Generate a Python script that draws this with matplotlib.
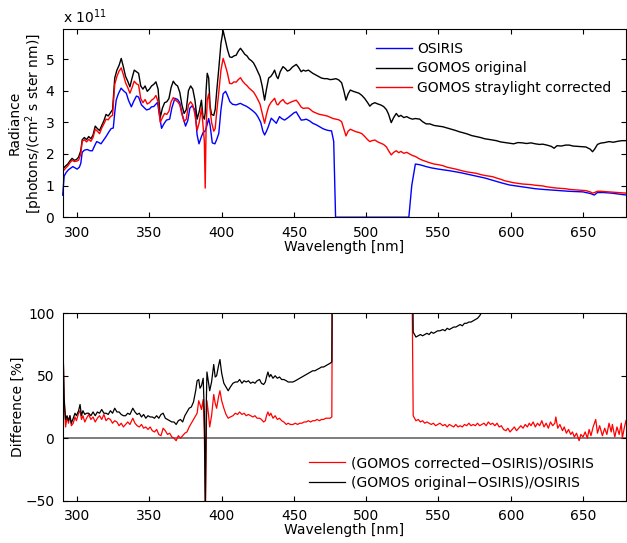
import matplotlib
matplotlib.use('Agg')
import matplotlib.pyplot as plt

plt.rcParams['font.family'] = 'DejaVu Sans'
plt.rcParams['font.size'] = 10
plt.rcParams['axes.linewidth'] = 0.8
plt.rcParams['xtick.direction'] = 'in'
plt.rcParams['ytick.direction'] = 'in'
plt.rcParams['xtick.top'] = True
plt.rcParams['ytick.right'] = True
plt.rcParams['xtick.major.size'] = 3.5
plt.rcParams['ytick.major.size'] = 3.5

# --- top panel: radiance (units of 1e11 photons/(cm2 s ster nm)) ---
wl_osiris = [290, 291, 292.5, 294, 295.5, 297, 298.5, 300, 301.5, 302.5, 303.5, 305, 307, 309,
             310.5, 312, 313.5, 315, 316.5, 318, 320, 322, 323.5, 325, 326, 327, 328.5, 330.4,
             332, 334, 335.5, 337.5, 339, 341, 342.5, 344.5, 346, 348, 350, 351.5, 353, 355.6,
             356.5, 358.4, 360, 361.8, 364, 365.5, 367.6, 369.5, 371, 373, 375, 376.5, 378,
             379.5, 381.5, 383, 384.3, 386, 387.2, 388.5, 389.5, 391, 392, 393.5, 395.3, 396.5,
             398, 399.5, 401, 402.7, 404, 405.7, 407.5, 410, 412.9, 415, 417, 419, 421.6, 423.5,
             425, 427, 428.5, 429.7, 431, 432, 434.3, 436, 437.8, 440, 441.5, 443.5, 446, 448.2,
             450, 451.6, 453, 455, 457, 458.5, 461, 463, 465.5, 467.7, 470, 472.3, 474, 476,
             477.5, 478.8, 529.5, 531.5, 534, 537, 541.5, 545, 550, 557.6, 565, 570, 576, 582,
             588, 594, 599, 605, 611, 617, 622, 628, 634, 640, 645, 650, 655, 657.8, 660, 664,
             670, 675, 680]
rad_osiris = [0.70, 1.30, 1.42, 1.50, 1.55, 1.60, 1.56, 1.52, 1.58, 1.70, 2.05, 2.12, 2.14, 2.10,
              2.10, 2.25, 2.39, 2.36, 2.32, 2.42, 2.55, 2.70, 2.80, 2.82, 3.30, 3.70, 3.90, 4.08,
              4.00, 3.92, 3.70, 3.49, 3.65, 3.83, 3.80, 3.55, 3.48, 3.39, 3.42, 3.49, 3.50, 3.63,
              3.35, 2.81, 2.95, 3.07, 3.10, 3.45, 3.76, 3.72, 3.62, 3.20, 2.88, 3.05, 3.45,
              3.52, 3.40, 2.60, 2.32, 2.55, 2.68, 2.72, 2.85, 3.12, 2.90, 2.35, 2.32, 2.45,
              2.65, 3.40, 3.90, 3.98, 3.85, 3.65, 3.57, 3.55, 3.60, 3.55, 3.51, 3.45, 3.36, 3.28,
              3.18, 3.00, 2.72, 2.60, 2.72, 2.83, 3.13, 3.05, 2.97, 3.18, 3.12, 3.07, 3.15, 3.23,
              3.30, 3.33, 3.22, 3.07, 3.08, 3.10, 3.04, 2.97, 2.92, 2.86, 2.80, 2.76, 2.74, 2.73,
              2.40, 0.0, 0.0, 1.00, 1.68, 1.66, 1.60, 1.56, 1.52, 1.47, 1.41, 1.36, 1.30, 1.24,
              1.16, 1.08, 1.02, 0.98, 0.94, 0.90, 0.88, 0.86, 0.84, 0.82, 0.81, 0.80, 0.75, 0.70,
              0.78, 0.78, 0.76, 0.73, 0.70]

wl_gomos = [289.5, 290.5, 292, 293.5, 295, 296.5, 298, 299.5, 301, 302.5, 303.5, 305, 306.5, 308,
            309.5, 311, 312.5, 314, 315.5, 317, 318.5, 320, 321.5, 323, 324.5, 326, 327.5, 329,
            330.5, 332, 333.5, 335, 336.5, 338, 339.5, 341, 342.5, 344, 345.5, 347, 348.5, 350,
            351.5, 353, 354.5, 356, 357.5, 359, 360.5, 362, 363.5, 365, 366.5, 368, 369.5, 371,
            372.5, 374, 375.5, 377, 378.5, 380, 381.5, 383, 384.5, 386, 387, 388, 388.6, 389.2,
            390, 391, 392, 393, 394.5, 395.5, 396.5, 398, 399.5, 401, 402.5, 404, 405.5, 407,
            408.5, 410, 411.5, 413, 414.5, 416, 417.5, 419, 420.5, 422, 423.5, 425, 426.5, 428,
            429.7, 431, 432.5, 434, 435.5, 436.6, 438, 439, 440.5, 442.4, 444, 445.5, 447, 449,
            451.6, 453, 455, 456.5, 458, 460, 461.5, 463, 465, 467, 469, 471, 473, 475, 477,
            479, 481, 483, 484.5, 486, 487.5, 489, 491, 493, 495, 497, 499, 501, 502.5, 504,
            506, 508, 510, 512, 514, 515.5, 517.3, 519, 520.8, 522.5, 524, 526, 528, 530, 532,
            534, 537, 539, 541.5, 544, 547, 550, 553, 556, 559, 562, 564.5, 567, 570, 573, 576,
            579, 582, 585, 587.5, 590, 593, 596, 599, 602, 605, 608, 611, 614, 617, 620, 622,
            625, 628, 630, 632, 635, 638, 640.5, 643, 646, 649, 652, 655, 656.6, 658, 660, 662,
            665, 668, 671, 674, 677, 680]
rad_gomos_orig = [1.50, 1.55, 1.62, 1.68, 1.78, 1.86, 1.80, 1.82, 1.90, 2.10, 2.45, 2.52, 2.45,
                  2.55, 2.48, 2.60, 2.88, 2.80, 2.74, 2.90, 3.05, 3.25, 3.20, 3.30, 3.40, 4.40,
                  4.65, 4.80, 5.02, 4.75, 4.45, 4.30, 4.12, 4.40, 4.65, 4.60, 4.55, 4.15, 4.05,
                  4.15, 3.98, 4.05, 4.15, 4.20, 4.28, 4.05, 3.15, 3.45, 3.62, 3.65, 3.75, 4.10,
                  4.30, 4.20, 4.15, 3.95, 3.55, 3.28, 3.40, 4.00, 4.15, 4.05, 3.70, 3.10, 3.35,
                  3.70, 3.20, 3.10, 3.30, 4.00, 4.55, 4.40, 3.50, 3.25, 3.22, 3.40, 3.95, 4.70,
                  5.50, 5.90, 5.60, 5.30, 5.07, 5.05, 5.10, 5.12, 5.25, 5.34, 5.25, 5.15, 5.10,
                  5.00, 4.95, 4.88, 4.75, 4.60, 4.45, 4.15, 3.70, 4.05, 4.40, 4.45, 4.55, 4.65,
                  4.45, 4.38, 4.60, 4.76, 4.70, 4.62, 4.65, 4.75, 4.83, 4.75, 4.60, 4.65, 4.62,
                  4.65, 4.60, 4.55, 4.50, 4.45, 4.40, 4.38, 4.38, 4.35, 4.36, 4.38, 4.34, 4.25,
                  4.00, 3.70, 3.90, 4.02, 3.98, 3.95, 3.92, 3.85, 3.75, 3.62, 3.51, 3.58, 3.62,
                  3.58, 3.55, 3.50, 3.40, 3.25, 2.99, 3.15, 3.28, 3.18, 3.22, 3.15, 3.18, 3.13,
                  3.10, 3.12, 3.10, 3.02, 2.95, 2.95, 2.90, 2.88, 2.86, 2.82, 2.78, 2.74, 2.70,
                  2.67, 2.63, 2.58, 2.55, 2.52, 2.48, 2.46, 2.44, 2.42, 2.38, 2.36, 2.34, 2.32,
                  2.36, 2.35, 2.33, 2.35, 2.32, 2.30, 2.31, 2.28, 2.24, 2.18, 2.26, 2.25, 2.28,
                  2.28, 2.25, 2.24, 2.23, 2.22, 2.15, 2.07, 2.15, 2.30, 2.34, 2.36, 2.39, 2.37,
                  2.40, 2.42, 2.42]
rad_gomos_corr = [1.40, 1.47, 1.55, 1.62, 1.72, 1.80, 1.76, 1.77, 1.80, 2.00, 2.40, 2.45, 2.38,
                  2.46, 2.40, 2.52, 2.78, 2.72, 2.64, 2.82, 2.95, 3.10, 3.08, 3.18, 3.22, 4.20,
                  4.45, 4.62, 4.72, 4.50, 4.25, 4.10, 3.92, 4.10, 4.30, 4.22, 4.18, 3.75, 3.62,
                  3.72, 3.58, 3.62, 3.70, 3.75, 3.85, 3.65, 3.00, 3.15, 3.28, 3.25, 3.35, 3.65,
                  3.78, 3.70, 3.65, 3.55, 3.25, 3.02, 3.10, 3.55, 3.65, 3.55, 3.25, 2.75, 3.00,
                  3.45, 2.95, 2.40, 0.92, 2.80, 3.70, 3.90, 3.40, 3.00, 2.72, 2.80, 3.30, 3.95,
                  4.65, 5.02, 4.80, 4.55, 4.23, 4.22, 4.28, 4.27, 4.35, 4.41, 4.30, 4.22, 4.16,
                  4.08, 4.02, 3.96, 3.85, 3.72, 3.58, 3.30, 2.97, 3.25, 3.50, 3.62, 3.70, 3.76,
                  3.58, 3.55, 3.65, 3.72, 3.62, 3.58, 3.62, 3.66, 3.70, 3.62, 3.48, 3.44, 3.45,
                  3.45, 3.40, 3.34, 3.30, 3.26, 3.24, 3.22, 3.20, 3.16, 3.12, 3.10, 3.08, 3.02,
                  2.80, 2.57, 2.72, 2.78, 2.74, 2.70, 2.68, 2.64, 2.55, 2.45, 2.39, 2.42, 2.44,
                  2.38, 2.34, 2.30, 2.22, 2.10, 1.97, 2.05, 2.10, 2.04, 2.08, 2.02, 2.05, 2.00,
                  1.95, 1.92, 1.84, 1.80, 1.76, 1.72, 1.68, 1.66, 1.63, 1.58, 1.55, 1.52, 1.49,
                  1.46, 1.43, 1.41, 1.39, 1.35, 1.32, 1.30, 1.28, 1.24, 1.20, 1.15, 1.12, 1.09,
                  1.07, 1.05, 1.04, 1.03, 1.01, 1.00, 0.99, 0.96, 0.94, 0.93, 0.92, 0.91, 0.90,
                  0.88, 0.87, 0.86, 0.85, 0.84, 0.80, 0.76, 0.78, 0.82, 0.82, 0.81, 0.80, 0.79,
                  0.78, 0.77, 0.76]

# --- bottom panel: relative difference [%] ---
wl_diff = [290.2, 291, 292, 293, 294, 295, 296, 297.3, 298.5, 299.5, 301, 302, 303, 304, 305.3,
           306.5, 308, 309.5, 311, 312.5, 314, 315.5, 317, 318.5, 320, 321.5, 323, 324.5, 326,
           327.5, 329, 330.5, 332, 333.5, 335, 336.5, 338.5, 340, 341.5, 343, 344.5, 346, 347.5,
           349, 350.5, 352, 353.5, 355, 356.5, 358, 359.5, 361, 362.5, 364, 365.5, 367, 368.5,
           370, 371.5, 373, 374.5, 376, 377.5, 379, 380.5, 382, 383, 384.1, 385, 386, 387.2, 388,
           388.7, 389.4, 389.8, 390.8, 391.7, 393, 394.5, 395.5, 396.5, 397.8, 398.8, 400, 401.5,
           403, 404.5, 406, 407.8, 409.5, 411, 412.4, 414, 415.5, 417, 418.5, 420, 421.6, 423,
           424.5, 426.2, 427.5, 429, 430.2, 431, 432, 433, 434, 435.5, 437, 438.5, 440, 441.5,
           443, 444.7, 446, 447.5, 449.3, 451, 452.5, 454, 455.5, 457, 458.5, 460, 461.5, 463,
           464.5, 466, 467.7, 469, 470.5, 472, 473.5, 475, 476.2, 477, 478.5, 530, 531.5, 532.5,
           534.4, 536, 537.5, 539, 540.5, 542, 543.5, 545, 546.5, 548, 549.5, 551, 553, 554.5,
           556, 557.5, 559, 560.5, 562, 563.5, 565, 566.5, 568, 569.5, 571, 572.5, 574, 575.5,
           577, 578.5, 580, 581.5, 583, 584.5, 586, 587.5, 589, 590.5, 592, 593.5, 595, 596.7,
           598, 599.5, 601, 602.5, 604, 605.5, 607, 608.5, 610, 611.5, 612.8, 614, 615.5, 617,
           618.5, 620, 621.5, 623, 624.5, 626, 627.5, 629, 630.5, 631.2, 632.5, 634, 635.8, 637,
           638.5, 640, 641.5, 642.7, 644, 645.5, 647.3, 648.5, 650, 651.5, 653, 654.2, 655.5,
           657, 658.8, 660, 661.5, 663.4, 665, 666.5, 668, 669.5, 670.3, 672, 673.5, 675, 676.5,
           677.2, 678.5, 679.7]
diff_corr = [75, 30, 9, 17, 12, 18, 10, 12, 17, 14, 20, 22, 15, 18, 13,
             16, 19, 15, 17, 13, 16, 18, 15, 19, 14, 16, 15, 12, 14,
             13, 10, 12, 9, 11, 13, 11, 16, 12, 10, 9, 11, 8, 9,
             7, 9, 6, 5, 7, 3, 2, 8, 6, 3, 4, 1, 0, -2,
             2, 0, 2, 4, 5, 9, 12, 15, 18, 20, 30, 27, 23, 31, 5,
             -60, 10, 30, 20, 9, 18, 35, 28, 24, 33, 38, 30, 24,
             19, 16, 17, 18, 20, 19, 21, 19, 20, 18, 19, 18, 17, 18,
             16, 16, 15, 13, 14, 18, 21, 18, 20, 16, 18, 15, 16, 14,
             13, 11, 12, 11, 11, 12, 11, 12, 12, 13, 13, 14, 13, 14,
             14, 15, 14, 15, 15, 16, 16, 16, 17, 250, 1000, 1000, 150, 18,
             14, 15, 13, 14, 12, 13, 12, 11, 12, 10, 11, 12, 10, 11,
             9, 11, 10, 9, 11, 9, 10, 9, 11, 10, 12, 10, 11, 10,
             12, 10, 11, 12, 10, 13, 11, 12, 10, 12, 9, 10, 7, 6,
             8, 5, 7, 9, 6, 8, 10, 8, 11, 9, 12, 10, 13, 9,
             12, 10, 14, 9, 12, 8, 13, 10, 12, 17, 8, 11, 6, 9,
             4, 7, 3, 5, 1, 4, -2, 3, 1, 5, 0, 7, 2,
             9, 15, 4, 10, 2, 8, 3, 12, 5, 11, 1, 9, 3, 12,
             0, 8, 14]
diff_orig = [76, 32, 15, 18, 14, 18, 12, 16, 20, 18, 22, 27, 18, 22, 19,
             20, 20, 18, 21, 18, 21, 20, 23, 20, 20, 19, 22, 20, 24,
             21, 21, 19, 18, 18, 20, 19, 24, 21, 19, 20, 17, 19, 16,
             18, 17, 17, 16, 18, 16, 19, 20, 16, 15, 14, 13, 13, 11,
             14, 15, 13, 18, 21, 24, 25, 29, 38, 46, 47, 40, 42, 48, 20,
             -60, 30, 53, 45, 38, 45, 59, 49, 50, 58, 63, 52, 44,
             41, 38, 41, 44, 45, 45, 47, 44, 46, 45, 46, 44, 45, 44,
             46, 47, 44, 43, 45, 49, 53, 49, 51, 48, 50, 48, 49, 47,
             47, 46, 45, 45, 45, 46, 47, 48, 49, 50, 51, 52, 53, 54,
             54, 55, 56, 57, 57, 58, 59, 60, 61, 250, 1000, 1000, 250, 85,
             81, 82, 83, 82, 83, 84, 83, 85, 84, 85, 86, 86, 87, 86,
             88, 87, 88, 89, 89, 90, 91, 90, 92, 92, 93, 93, 94, 95,
             96, 98, 101, 104, 106, 108, 110, 112, 114, 116, 118, 120, 122, 125,
             127, 129, 131, 133, 135, 137, 139, 141, 143, 145, 147, 149, 151, 153,
             155, 157, 159, 161, 163, 165, 167, 169, 171, 173, 175, 177, 179, 181,
             183, 185, 187, 189, 191, 193, 195, 197, 199, 201, 203, 205, 207,
             209, 211, 213, 215, 217, 219, 221, 223, 225, 227, 229, 231, 233, 235,
             237, 239, 241]

fig = plt.figure(figsize=(6.27, 5.43), dpi=100)
ax1 = fig.add_axes([0.100, 0.600, 0.899, 0.346])
ax2 = fig.add_axes([0.100, 0.078, 0.899, 0.345])

ax1.plot(wl_osiris, rad_osiris, color='blue', lw=1.0, label='OSIRIS', clip_on=False)
ax1.plot(wl_gomos, rad_gomos_orig, color='black', lw=1.0, label='GOMOS original')
ax1.plot(wl_gomos, rad_gomos_corr, color='red', lw=1.0, label='GOMOS straylight corrected')
ax1.set_xlim(290, 680)
ax1.set_ylim(0, 5.94)
ax1.set_yticks([0, 1, 2, 3, 4, 5])
ax1.set_xticks(range(300, 700, 50))
ax1.set_xlabel('Wavelength [nm]', labelpad=0)
ax1.set_ylabel('Radiance\n[photons/(cm$^2$ s ster nm)]', linespacing=1.1)
ax1.yaxis.set_label_coords(-0.032, 0.5)
ax1.text(0.0, 1.02, r'x 10$^{11}$', transform=ax1.transAxes, ha='left', va='bottom')
ax1.legend(loc='upper left', bbox_to_anchor=(0.555, 0.935), frameon=False, borderpad=0,
           borderaxespad=0, handlelength=2.6, handletextpad=0.4, labelspacing=0.42)

ax2.plot(wl_diff, diff_corr, color='red', lw=0.9, label='(GOMOS corrected\u2212OSIRIS)/OSIRIS')
ax2.plot(wl_diff, diff_orig, color='black', lw=0.9, label='(GOMOS original\u2212OSIRIS)/OSIRIS')
ax2.axhline(0, color='0.45', lw=1.3, zorder=1)
ax2.set_xlim(290, 680)
ax2.set_ylim(-50, 100)
ax2.set_yticks([-50, 0, 50, 100])
ax2.set_yticklabels(['\u221250', '0', '50', '100'])
ax2.set_xticks(range(300, 700, 50))
ax2.set_xlabel('Wavelength [nm]', labelpad=0)
ax2.set_ylabel('Difference [%]')
ax2.yaxis.set_label_coords(-0.068, 0.5)
ax2.legend(loc='upper left', bbox_to_anchor=(0.437, 0.238), frameon=False, borderpad=0,
           borderaxespad=0, handlelength=2.6, handletextpad=0.4, labelspacing=0.42)

for ax in (ax1, ax2):
    ax.tick_params(pad=6)

fig.savefig('out.png', dpi=100)
